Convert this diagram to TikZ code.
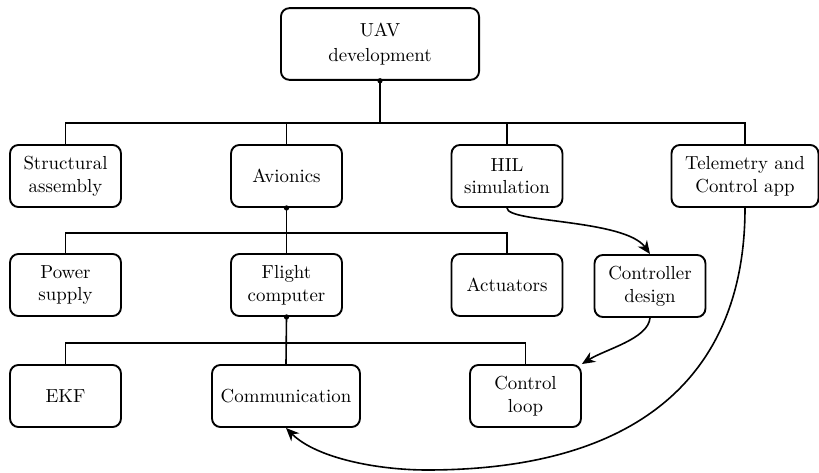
\documentclass[tikz,border=0pt]{standalone}
\usetikzlibrary{arrows.meta}
\begin{document}
\begin{tikzpicture}[x=0.53pt,y=-0.53pt,
  box/.style={draw,rounded corners=4.5pt,line width=1pt,align=center,
    minimum width=58.8pt,minimum height=32.9pt,inner sep=2pt,font=\fontsize{10}{12}\selectfont},
  link/.style={line width=0.85pt},
  flow/.style={line width=0.85pt,-{Stealth[length=7pt,width=6pt]}},
  joint/.style={circle,fill,inner sep=0pt,minimum size=2.8pt}]
\useasboundingbox (0,0) rectangle (819,473);

% nodes
\node[box,minimum width=105pt,minimum height=38pt,font=\fontsize{10}{13.5}\selectfont] (uav) at (380,44) {UAV\\development};

\node[box] (sa)  at (65.5,176) {Structural\\assembly};
\node[box] (av)  at (286.5,176) {Avionics};
\node[box] (hil) at (507,176) {HIL\\simulation};
\node[box,minimum width=77.9pt] (tel) at (745,176) {Telemetry and\\Control app};

\node[box] (ps)  at (65.5,285) {Power\\supply};
\node[box] (fc)  at (286.5,285) {Flight\\computer};
\node[box] (act) at (507,285) {Actuators};
\node[box] (cd)  at (650,286) {Controller\\design};

\node[box] (ekf) at (65.5,396) {EKF};
\node[box,minimum width=78.4pt] (com) at (286,396) {Communication};
\node[box] (cl)  at (525.5,396) {Control\\loop};

% bus levels
\coordinate (busA) at (0,123);
\coordinate (busB) at (0,233);
\coordinate (busC) at (0,343);

% level 1
\draw[link] (uav.south) -- (uav.south |- busA);
\draw[link] (sa.north) -- (sa.north |- busA) -- (tel.north |- busA) -- (tel.north);
\draw[link] (av.north) -- (av.north |- busA);
\draw[link] (hil.north) -- (hil.north |- busA);

% level 2
\draw[link] (av.south) -- (fc.north);
\draw[link] (ps.north) -- (ps.north |- busB) -- (act.north |- busB) -- (act.north);

% level 3
\draw[link] (fc.south) -- (com.north);
\draw[link] (ekf.north) -- (ekf.north |- busC) -- (cl.north |- busC) -- (cl.north);

% junction dots
\node[joint] (j1) at (uav.south) {};
\node[joint] (j2) at (av.south) {};
\node[joint] (j3) at (fc.south) {};

% data flow
\coordinate (sweep) at (427,470);
\draw[flow] (hil.south) .. controls +(0,15) and +(-25,-35) .. (cd.north);
\draw[flow] (cd.south) .. controls +(-2,21) and +(24,-15) .. (cl.north east);
\draw[flow] (tel.south) .. controls +(0,160) and +(220,0) .. (sweep)
  .. controls +(-50,0) and +(30,30) .. (com.south);
\end{tikzpicture}
\end{document}
